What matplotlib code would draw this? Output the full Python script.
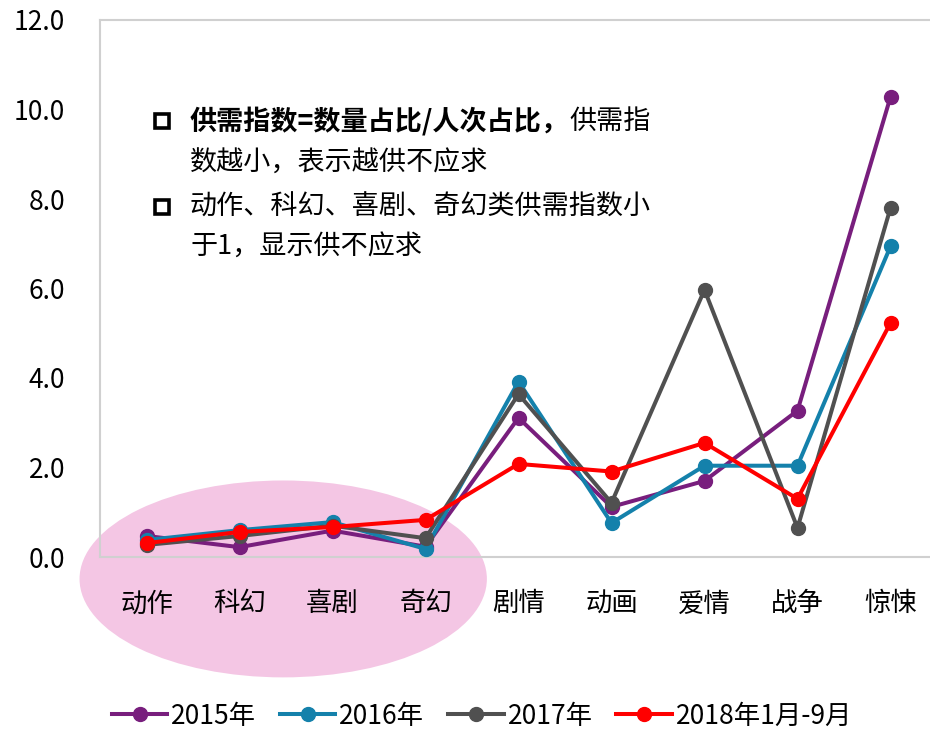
import matplotlib.pyplot as plt
from matplotlib.patches import Ellipse
from matplotlib.lines import Line2D

plt.rcParams['font.family'] = ['Noto Sans CJK SC', 'DejaVu Sans']

# genre categories and supply/demand index per year
categories = ["动作", "科幻", "喜剧", "奇幻", "剧情", "动画", "爱情", "战争", "惊悚"]
y2015 = [0.47, 0.22, 0.59, 0.23, 3.11, 1.12, 1.70, 3.27, 10.28]
y2016 = [0.38, 0.60, 0.78, 0.18, 3.92, 0.76, 2.04, 2.04, 6.94]
y2017 = [0.27, 0.47, 0.70, 0.42, 3.64, 1.21, 5.97, 0.65, 7.80]
y2018 = [0.31, 0.56, 0.67, 0.83, 2.08, 1.91, 2.55, 1.30, 5.23]
series_names = ["2015年", "2016年", "2017年", "2018年1月-9月"]
colors = ["#781E7D", "#1481AB", "#505050", "#FF0000"]
yticks = [0, 2, 4, 6, 8, 10, 12]

fig = plt.figure(figsize=(9.3, 7.33), dpi=100)
ax = fig.add_axes([100 / 930, 176 / 733, 837 / 930, 537 / 733])

x = list(range(len(categories)))

# pink highlight over the first four genres
ell = Ellipse((1.47, -0.49), 4.38, 4.4, facecolor="#F4C6E4", edgecolor="none",
              zorder=0, clip_on=False)
ax.add_patch(ell)

for vals, name, c, z in zip([y2015, y2016, y2017, y2018], series_names, colors, [2, 3, 4, 5]):
    ax.plot(x, vals, color=c, lw=2.9, marker='o', ms=10, label=name, zorder=z)

ax.set_xlim(-0.5, 8.5)
ax.set_ylim(0, 12)
ax.set_yticks(yticks)
ax.set_yticklabels([f"{v:.1f}" for v in yticks], fontsize=19)
ax.set_xticks(x)
ax.set_xticklabels(categories, fontsize=19)
ax.tick_params(length=0)
ax.tick_params(axis='x', pad=24)
ax.tick_params(axis='y', pad=25)
for s in ["left", "bottom", "top"]:
    ax.spines[s].set_color("#D0D0D0")
    ax.spines[s].set_linewidth(1.5)
ax.spines["right"].set_visible(False)
ax.set_facecolor("none")

# notes
fs = 19.5
for yy in [121, 207]:
    fig.add_artist(Line2D([162 / 930], [1 - yy / 733], marker='s', ms=9.5, mfc='white',
                          mec='black', mew=2.6, transform=fig.transFigure))
t1 = ax.text(190 / 930, 1 - 121 / 733, "供需指数=数量占比/人次占比，", transform=fig.transFigure,
             fontsize=fs, fontweight='bold', va='center', ha='left')
ax.annotate("供需指", xy=(1, 0.5), xycoords=t1, fontsize=fs, va='center', ha='left')
ax.text(190 / 930, 1 - 163 / 733, "数越小，表示越供不应求", transform=fig.transFigure,
        fontsize=fs, va='center', ha='left')
ax.text(190 / 930, 1 - 207 / 733, "动作、科幻、喜剧、奇幻类供需指数小", transform=fig.transFigure,
        fontsize=fs, va='center', ha='left')
ax.text(190 / 930, 1 - 246 / 733, "于1，显示供不应求", transform=fig.transFigure,
        fontsize=fs, va='center', ha='left')

fig.legend(loc='center', bbox_to_anchor=(482 / 930, 1 - 716 / 733), ncol=4, frameon=False,
           fontsize=19, handlelength=2.1, handletextpad=0.15, columnspacing=0.9)

fig.savefig("out.png", dpi=100)
